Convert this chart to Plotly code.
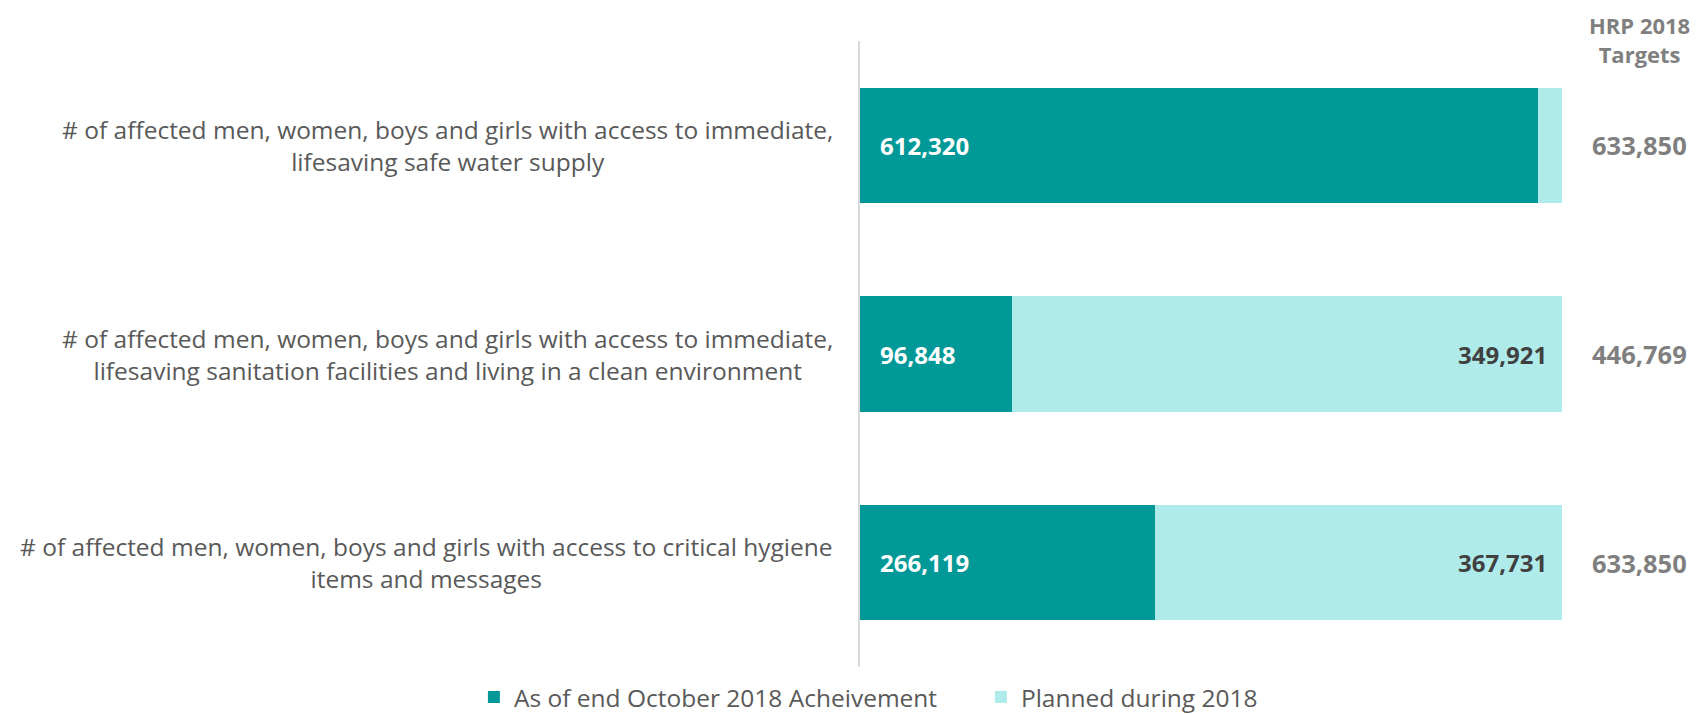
import plotly.graph_objects as go

categories = [
    "# of affected men, women, boys and girls with access to immediate,<br>lifesaving safe water supply",
    "# of affected men, women, boys and girls with access to immediate,<br>lifesaving sanitation facilities and living in a clean environment",
    "# of affected men, women, boys and girls with access to critical hygiene<br>items and messages",
]
achieved = [612320, 96848, 266119]
planned = [21530, 349921, 367731]
targets = [a + p for a, p in zip(achieved, planned)]
series_names = ["As of end October 2018 Acheivement", "Planned during 2018"]
header = "HRP 2018<br>Targets"

DARK = "#009997"
LIGHT = "#AEEBEA"
FONT = "Open Sans"

fig = go.Figure()
fig.add_trace(go.Bar(
    y=categories, x=achieved, orientation="h", name=series_names[0],
    marker=dict(color=DARK, line=dict(width=0)),
    hoverinfo="x",
))
fig.add_trace(go.Bar(
    y=categories, x=planned, orientation="h", name=series_names[1],
    marker=dict(color=LIGHT, line=dict(width=0)),
    hoverinfo="x",
))

annotations = []
for i, cat in enumerate(categories):
    tot = targets[i]
    # category label
    annotations.append(dict(
        xref="paper", yref="y", x=0, y=cat, xshift=-25, xanchor="right",
        text=cat, showarrow=False, align="center",
        font=dict(family=FONT, size=24.5, color="#595959"),
    ))
    # achieved label
    annotations.append(dict(
        xref="x", yref="y", x=0, y=cat, xshift=18, xanchor="left",
        text=f"{achieved[i]:,}", showarrow=False,
        font=dict(family=FONT, size=24, color="white", weight="bold"),
    ))
    # planned label (only where the segment is wide enough)
    if planned[i] / tot > 0.1:
        annotations.append(dict(
            xref="x", yref="y", x=100, y=cat, xshift=-13, xanchor="right",
            text=f"{planned[i]:,}", showarrow=False,
            font=dict(family=FONT, size=24, color="#404040", weight="bold"),
        ))
    # target label
    annotations.append(dict(
        xref="paper", yref="y", x=1.1111, y=cat, xanchor="center",
        text=f"{tot:,}", showarrow=False,
        font=dict(family=FONT, size=25.5, color="#7f7f7f", weight="bold"),
    ))

annotations.append(dict(
    xref="paper", yref="paper", x=1.111, y=1.0, yshift=2, xanchor="center", yanchor="middle",
    text=header, showarrow=False,
    font=dict(family=FONT, size=22, color="#7f7f7f", weight="bold"),
))

fig.update_layout(
    barmode="stack", barnorm="percent", bargap=0.448,
    width=1696, height=706,
    margin=dict(l=852, r=142, t=33, b=47, autoexpand=False),
    paper_bgcolor="white", plot_bgcolor="white",
    font=dict(family=FONT, color="#595959"),
    showlegend=True,
    legend=dict(
        orientation="h", x=-0.55, xanchor="left", y=-0.048, yanchor="middle",
        font=dict(family=FONT, size=24.5, color="#595959"),
        entrywidth=462, entrywidthmode="pixels",
        traceorder="normal",
    ),
    annotations=annotations,
)
fig.update_xaxes(visible=False, range=[0, 100], fixedrange=True)
fig.update_yaxes(
    categoryorder="array", categoryarray=categories, autorange="reversed",
    showticklabels=False, ticks="", showgrid=False, zeroline=False,
    showline=True, linecolor="#d9d9d9", linewidth=2,
)

fig.write_html("out.html")
